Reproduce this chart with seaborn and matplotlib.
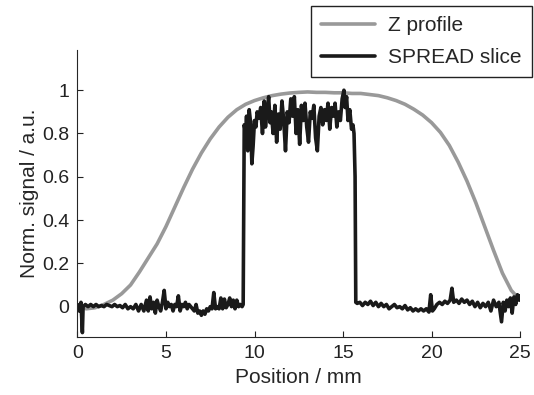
import matplotlib
matplotlib.use('Agg')
import matplotlib.pyplot as plt
import numpy as np
import pandas as pd
import seaborn as sns

# ~~~ data ~~~
z_pos = [0.0, 0.5, 1.0, 1.5, 2.0, 2.5, 3.0, 3.5, 4.0, 4.5, 5.0, 5.5, 6.0, 6.5,
         7.0, 7.5, 8.0, 8.5, 9.0, 9.5, 10.0, 10.5, 11.0, 11.5, 12.0, 12.5,
         13.0, 13.5, 14.0, 14.5, 15.0, 15.5, 16.0, 16.5, 17.0, 17.5, 18.0,
         18.5, 19.0, 19.5, 20.0, 20.5, 21.0, 21.5, 22.0, 22.5, 23.0, 23.5,
         24.0, 24.5, 25.0]
z_signal = [0.005, -0.01, -0.005, 0.01, 0.03, 0.06, 0.10, 0.16, 0.225, 0.29,
            0.37, 0.46, 0.55, 0.635, 0.71, 0.775, 0.83, 0.875, 0.91, 0.935,
            0.952, 0.965, 0.975, 0.982, 0.987, 0.99, 0.992, 0.99, 0.99, 0.988,
            0.988, 0.985, 0.985, 0.98, 0.975, 0.965, 0.952, 0.935, 0.912, 0.885,
            0.85, 0.805, 0.745, 0.668, 0.58, 0.48, 0.37, 0.26, 0.155, 0.075, 0.03]

spread_pos = [
    0.00, 0.10, 0.20, 0.28, 0.32, 0.45, 0.60, 0.75, 0.90, 1.05, 1.20, 1.35,
    1.50, 1.65, 1.80, 1.95, 2.10, 2.25, 2.40, 2.55, 2.70, 2.85, 3.00, 3.15,
    3.30, 3.45, 3.60, 3.75, 3.90, 4.00, 4.10, 4.20, 4.30, 4.40, 4.50, 4.60,
    4.70, 4.80, 4.90, 5.00, 5.10, 5.20, 5.30, 5.40, 5.50, 5.60, 5.70, 5.80,
    5.90, 6.00, 6.10, 6.20, 6.30, 6.40, 6.50, 6.60, 6.70, 6.80, 6.90, 7.00,
    7.10, 7.20, 7.30, 7.40, 7.50, 7.60, 7.70, 7.80, 7.90, 8.00, 8.10, 8.20,
    8.30, 8.40, 8.50, 8.60, 8.70, 8.80, 8.90, 9.00, 9.10, 9.20, 9.30, 9.36,
    9.40, 9.42, 9.50, 9.55, 9.62, 9.70, 9.78, 9.85, 9.92, 10.00, 10.08, 10.15,
    10.25, 10.35, 10.45, 10.55, 10.62, 10.70, 10.80, 10.88, 10.95, 11.05,
    11.15, 11.25, 11.35, 11.45, 11.55, 11.65, 11.75, 11.85, 11.95, 12.05,
    12.15, 12.25, 12.35, 12.45, 12.55, 12.65, 12.75, 12.85, 12.95, 13.05,
    13.15, 13.25, 13.35, 13.45, 13.55, 13.65, 13.75, 13.85, 13.95, 14.05,
    14.15, 14.25, 14.35, 14.45, 14.55, 14.65, 14.75, 14.85, 14.95, 15.05,
    15.12, 15.20, 15.28, 15.38, 15.48, 15.56, 15.62, 15.68, 15.72, 15.80,
    15.95, 16.10, 16.25, 16.40, 16.55, 16.70, 16.85, 17.00, 17.15, 17.30,
    17.45, 17.60, 17.75, 17.90, 18.05, 18.20, 18.35, 18.50, 18.65, 18.80,
    18.95, 19.10, 19.25, 19.40, 19.55, 19.70, 19.85, 19.95, 20.05, 20.15,
    20.30, 20.45, 20.60, 20.75, 20.90, 21.05, 21.15, 21.25, 21.40, 21.55,
    21.70, 21.85, 22.00, 22.15, 22.30, 22.45, 22.60, 22.75, 22.90, 23.05,
    23.20, 23.35, 23.50, 23.65, 23.80, 23.95, 24.05, 24.15, 24.25, 24.35,
    24.45, 24.55, 24.65, 24.75, 24.85, 24.95, 25.00]
spread_signal = [
    0.01, -0.02, 0.02, -0.12, 0.00, 0.01, 0.00, 0.01, 0.00, 0.01, 0.00, 0.005,
    0.00, 0.01, 0.005, 0.00, 0.01, 0.00, 0.005, -0.005, 0.01, -0.01, 0.00, -0.01,
    0.01, -0.02, 0.01, -0.02, 0.03, -0.02, 0.045, -0.01, 0.02, -0.03, 0.03, 0.00,
    -0.02, 0.02, 0.075, -0.01, 0.02, 0.00, 0.01, -0.02, 0.01, 0.00, 0.05, -0.02,
    0.01, 0.00, 0.02, -0.01, 0.01, 0.00, -0.01, -0.02, 0.01, -0.03, -0.02, -0.04,
    -0.02, -0.035, -0.01, -0.02, 0.00, -0.01, 0.065, -0.01, 0.00, -0.01, 0.04, -0.01,
    0.035, -0.005, 0.01, 0.04, 0.00, 0.03, -0.01, 0.03, 0.00, 0.01, 0.00, 0.01,
    0.55, 0.84, 0.80, 0.88, 0.72, 0.91, 0.85, 0.66, 0.74, 0.86, 0.83, 0.90,
    0.87, 0.92, 0.80, 0.95, 0.83, 0.90, 0.97, 0.85, 0.90, 0.80,
    0.93, 0.76, 0.89, 0.82, 0.95, 0.86, 0.72, 0.90, 0.85, 0.96,
    0.88, 0.97, 0.80, 0.91, 0.75, 0.93, 0.86, 0.94, 0.83, 0.76,
    0.90, 0.87, 0.93, 0.78, 0.72, 0.88, 0.92, 0.84, 0.91, 0.86,
    0.94, 0.82, 0.92, 0.88, 0.94, 0.83, 0.90, 0.86, 0.96, 1.00,
    0.92, 0.97, 0.86, 0.91, 0.82, 0.84, 0.80, 0.60, 0.02, 0.015,
    0.02, 0.005, 0.02, 0.01, 0.025, 0.005, 0.02, 0.00, 0.015, 0.00,
    0.01, -0.01, 0.00, 0.01, -0.005, 0.00, -0.01, 0.005, -0.015, -0.005,
    -0.02, -0.01, -0.02, -0.01, -0.02, -0.01, -0.025, 0.055, -0.02, -0.01,
    0.01, 0.02, 0.01, 0.025, 0.015, 0.03, 0.085, 0.02, 0.03, 0.015,
    0.035, 0.02, 0.03, 0.01, 0.025, 0.00, 0.02, -0.005, 0.015, 0.00,
    0.02, -0.02, 0.03, 0.00, 0.02, -0.07, 0.02, -0.02, 0.03, 0.00,
    0.04, -0.03, 0.045, 0.01, 0.055, 0.03, 0.05]

# ~~~ build long table for seaborn ~~~
df = pd.concat([
    pd.DataFrame({'pos': z_pos, 'sig': z_signal, 'curve': 'Z profile'}),
    pd.DataFrame({'pos': spread_pos, 'sig': spread_signal, 'curve': 'SPREAD slice'}),
])

sns.set_style('ticks')
plt.rcParams['font.family'] = ['Liberation Sans', 'DejaVu Sans']
plt.rcParams['xtick.direction'] = 'in'
plt.rcParams['ytick.direction'] = 'in'

fig = plt.figure(figsize=(5.34, 3.95), dpi=100)
ax = fig.add_axes([0.145, 0.147, 0.829, 0.726])

sns.lineplot(data=df, x='pos', y='sig', hue='curve', sort=False,
             palette={'Z profile': '#999999', 'SPREAD slice': '#1a1a1a'},
             linewidth=2.6, ax=ax, legend=False)

ax.set_xlim(0, 25)
ax.set_ylim(-0.14, 1.185)
ax.set_xticks([0, 5, 10, 15, 20, 25])
ax.set_yticks([0, 0.2, 0.4, 0.6, 0.8, 1])
ax.set_yticklabels(['0', '0.2', '0.4', '0.6', '0.8', '1'])
ax.tick_params(labelsize=14, length=4, width=0.8, colors='#222222', pad=6)
ax.set_xlabel('Position / mm', fontsize=15, labelpad=4)
ax.set_ylabel('Norm. signal / a.u.', fontsize=15, labelpad=2)
sns.despine(ax=ax)
for s in ['left', 'bottom']:
    ax.spines[s].set_linewidth(0.8)

lines = ax.get_lines()
leg = fig.legend(lines[:2], ['Z profile', 'SPREAD slice'],
                 loc='upper right', bbox_to_anchor=(0.996, 0.985),
                 fontsize=15, fancybox=False, framealpha=1,
                 edgecolor='#222222', handlelength=2.6, handletextpad=0.6,
                 labelspacing=0.6, borderpad=0.5, borderaxespad=0)
leg.get_frame().set_linewidth(1.0)

fig.savefig('out.png', dpi=100)
